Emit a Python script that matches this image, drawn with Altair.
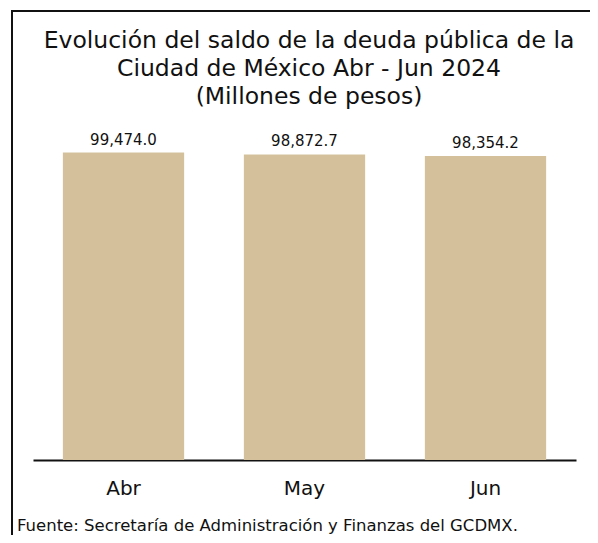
import altair as alt
import pandas as pd

months = ["Abr", "May", "Jun"]
values = [99474.0, 98872.7, 98354.2]
title_lines = ["Evolución del saldo de la deuda pública de la",
               "Ciudad de México Abr - Jun 2024",
               "(Millones de pesos)"]
footnote = "Fuente: Secretaría de Administración y Finanzas del GCDMX."

df = pd.DataFrame({"mes": months, "valor": values})
FONT = "DejaVu Sans"
INK = "#111111"

x = alt.X("mes:N", sort=months,
          scale=alt.Scale(paddingInner=0.33, paddingOuter=0.165),
          axis=alt.Axis(title=None, labelAngle=0, labelFontSize=20, labelFont=FONT,
                        labelColor=INK, labelPadding=18, ticks=False,
                        domainColor=INK, domainWidth=2))
y = alt.Y("valor:Q", scale=alt.Scale(domain=[0, 110000]), axis=None)

base = alt.Chart(df)
bars = base.mark_bar(color="#D4C19C").encode(x=x, y=y)
labels = base.mark_text(baseline="alphabetic", dy=-8, fontSize=15, font=FONT,
                        color=INK).encode(
    x=alt.X("mes:N", sort=months), y="valor:Q",
    text=alt.Text("valor:Q", format=",.1f"))

title_df = pd.DataFrame({"t": title_lines, "yy": [-72, -44, -16]})
title = alt.Chart(title_df).mark_text(
    align="center", baseline="alphabetic", fontSize=23.5, font=FONT, color=INK
).encode(x=alt.value(276), y=alt.Y("yy:Q", scale=None), text="t:N")

foot = alt.Chart(pd.DataFrame({"t": [footnote]})).mark_text(
    align="left", baseline="alphabetic", fontSize=16.5, font=FONT, color=INK
).encode(x=alt.value(-16), y=alt.value(411), text="t:N")

left_border = alt.Chart(pd.DataFrame({"a": [0]})).mark_rule(
    color=INK, strokeWidth=2).encode(
    x=alt.value(-21), y=alt.value(-110), y2=alt.value(430))
top_border = alt.Chart(pd.DataFrame({"a": [0]})).mark_rule(
    color=INK, strokeWidth=2).encode(
    x=alt.value(-22), x2=alt.value(570), y=alt.value(-109))

chart = alt.layer(bars, labels, title, foot, left_border, top_border).properties(
    width=543, height=340,
    autosize=alt.AutoSizeParams(type="none"),
    padding={"left": 25, "top": 112, "right": 14, "bottom": 75},
).configure_view(stroke=None)

chart.save("out.html", embed_options={"renderer": "svg", "actions": False})
